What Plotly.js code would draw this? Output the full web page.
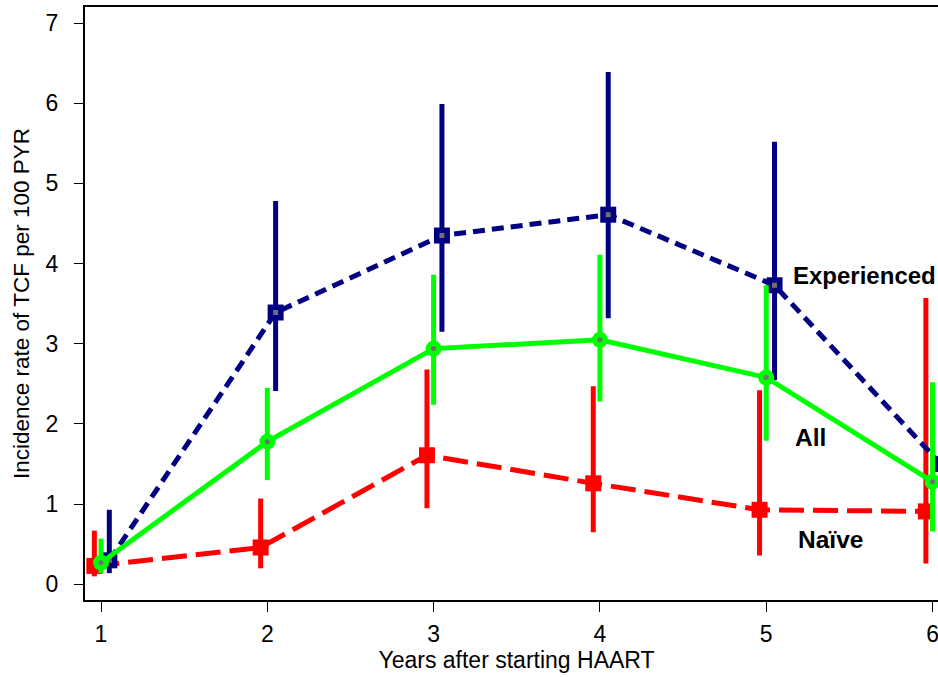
<!DOCTYPE html>
<html>
<head>
<meta charset="utf-8">
<script src="https://cdn.plot.ly/plotly-3.0.1.min.js"></script>
<style>
html,body{margin:0;padding:0;overflow:hidden;background:#fff;}
#chart{width:960px;height:677px;}
</style>
</head>
<body>
<div id="chart"></div>
<script>
// Years after starting HAART
const years = [1, 2, 3, 4, 5, 6];

// Naïve
const naiveRate  = [0.23, 0.46, 1.61, 1.26, 0.93, 0.91];
const naiveLow   = [0.10, 0.20, 0.95, 0.65, 0.36, 0.26];
const naiveHigh  = [0.67, 1.07, 2.68, 2.47, 2.42, 3.57];

// All
const allRate    = [0.27, 1.78, 2.94, 3.05, 2.58, 1.28];
const allLow     = [0.14, 1.30, 2.24, 2.28, 1.79, 0.66];
const allHigh    = [0.57, 2.45, 3.86, 4.11, 3.73, 2.52];

// Experienced
const expRate    = [0.30, 3.39, 4.35, 4.61, 3.73, 1.50];
const expLow     = [0.14, 2.41, 3.15, 3.32, 2.55, 0.70];
const expHigh    = [0.93, 4.78, 5.99, 6.39, 5.52, 3.20];

const seriesLabels = ["Experienced", "All", "Naïve"];
const xTicks = [1, 2, 3, 4, 5, 6];
const yTicks = [0, 1, 2, 3, 4, 5, 6, 7];

const NAVY = "#000080", GREEN = "#00FF00", RED = "#FF0000", DOT = "#707070";

function shift(arr, d) { return arr.map(v => v + d); }
function up(rate, hi) { return hi.map((h, i) => h - rate[i]); }
function down(rate, lo) { return rate.map((r, i) => r - lo[i]); }

function series(name, x, y, lo, hi, color, dash, symbol, size) {
  return {
    type: "scatter", mode: "lines+markers", name: name,
    x: x, y: y,
    line: {color: color, width: 5, dash: dash},
    marker: {color: color, symbol: symbol, size: size, line: {width: 0}},
    error_y: {type: "data", symmetric: false, array: up(y, hi), arrayminus: down(y, lo),
              color: color, thickness: 5, width: 0},
    showlegend: false, hoverinfo: "x+y"
  };
}
function dots(x, y, symbol) {
  return {type: "scatter", mode: "markers", x: x, y: y,
    marker: {color: DOT, size: 5, symbol: symbol}, showlegend: false, hoverinfo: "skip"};
}

const xN = shift(years, -0.04), xA = years.slice(), xE = shift(years, 0.05);

const data = [
  series("Naïve", xN, naiveRate, naiveLow, naiveHigh, RED, "25px,9px", "square", 16),
  series("Experienced", xE, expRate, expLow, expHigh, NAVY, "12px,7px", "square", 16),
  dots(xE, expRate, "square"),
  series("All", xA, allRate, allLow, allHigh, GREEN, "solid", "circle", 16),
  dots(xA, allRate, "circle")
];

const font = {family: "Liberation Sans, Arial, sans-serif", color: "#000"};
const f = s => Object.assign({size: s}, font);

const layout = {
  width: 960, height: 677,
  margin: {l: 85, r: 12, t: 7, b: 77},
  paper_bgcolor: "#fff", plot_bgcolor: "#fff",
  font: f(22),
  xaxis: {
    range: [0.9038, 6.093], tickvals: xTicks, ticktext: xTicks.map(String),
    showgrid: false, zeroline: false,
    showline: true, linecolor: "#000", linewidth: 2, mirror: true,
    ticks: "outside", ticklen: 10, tickwidth: 1, tickcolor: "#000",
    ticklabelstandoff: 2,
    tickfont: f(23),
    title: {text: "Years after starting HAART", font: f(23), standoff: 2}
  },
  yaxis: {
    range: [-0.195, 7.2], tickvals: yTicks, ticktext: yTicks.map(String),
    showgrid: false, zeroline: false,
    showline: true, linecolor: "#000", linewidth: 2, mirror: true,
    ticks: "outside", ticklen: 9, tickwidth: 1, tickcolor: "#000",
    ticklabelstandoff: 11,
    tickfont: f(23),
    title: {text: "Incidence rate of TCF per 100 PYR", font: f(22.5), standoff: 10}
  },
  annotations: [
    {x: 5.148, y: 3.85, text: "<b>" + seriesLabels[0] + "</b>", xanchor: "left", yanchor: "middle", showarrow: false, font: f(24)},
    {x: 5.161, y: 1.83, text: "<b>" + seriesLabels[1] + "</b>", xanchor: "left", yanchor: "middle", showarrow: false, font: f(24.5)},
    {x: 5.179, y: 0.555, text: "<b>" + seriesLabels[2] + "</b>", xanchor: "left", yanchor: "middle", showarrow: false, font: f(24.5)}
  ]
};

Plotly.newPlot("chart", data, layout, {displayModeBar: false, staticPlot: true});
</script>
</body>
</html>
